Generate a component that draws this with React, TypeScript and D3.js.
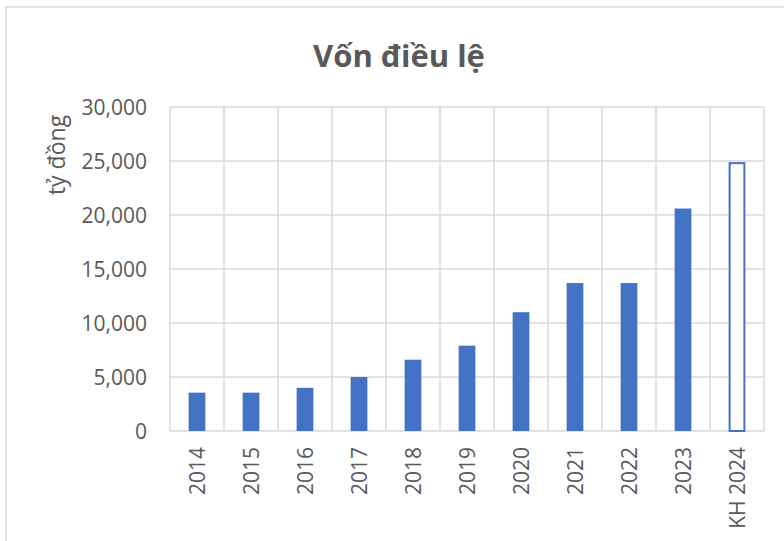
import React from "react";
import * as d3 from "d3";

// data
const categories = ["2014", "2015", "2016", "2017", "2018", "2019", "2020", "2021", "2022", "2023", "KH 2024"];
const values = [3550, 3550, 4000, 5000, 6600, 7900, 11000, 13700, 13700, 20600, 24800];
const planned = [false, false, false, false, false, false, false, false, false, false, true];
const yTicks = [0, 5000, 10000, 15000, 20000, 25000, 30000];

const width = 784;
const height = 541;
const margin = { top: 107, right: 20, bottom: 110, left: 170 };
const plotW = 594;
const plotH = 324;
const font = "'Open Sans', 'Liberation Sans', sans-serif";
const textColor = "#595959";
const gridColor = "#d9d9d9";
const barColor = "#4472C4";

const App = () => {
  const x = d3.scaleBand().domain(categories).range([0, plotW]).padding(0);
  const y = d3.scaleLinear().domain([0, 30000]).range([plotH, 0]);
  const fmt = d3.format(",");
  const barW = x.bandwidth() * 0.31;

  return (
    <svg width={width} height={height} style={{ position: "absolute", left: 0, top: 0 }}>
      <rect x={0} y={0} width={width} height={height} fill="#fff" />
      {/* chart border */}
      <rect x={6} y={7} width={width + 20} height={height + 20} fill="none" stroke={gridColor} strokeWidth={1.5} />

      <text x={399} y={67} textAnchor="middle" fontFamily={font} fontWeight="bold" fontSize={31} fill={textColor}>
        Vốn điều lệ
      </text>

      <text
        transform={`translate(65,155) rotate(-90)`}
        textAnchor="middle"
        fontFamily={font}
        fontSize={23}
        fill={textColor}
      >
        tỷ đồng
      </text>

      <g transform={`translate(${margin.left},${margin.top})`}>
        {/* horizontal grid */}
        {yTicks.map((t) => (
          <line key={"h" + t} x1={0} x2={plotW} y1={y(t)} y2={y(t)} stroke={gridColor} strokeWidth={1.5} />
        ))}
        {/* vertical grid at category boundaries */}
        {categories.map((c) => (
          <line key={"v" + c} x1={x(c)!} x2={x(c)!} y1={0} y2={plotH} stroke={gridColor} strokeWidth={1.5} />
        ))}
        <line x1={plotW} x2={plotW} y1={0} y2={plotH} stroke={gridColor} strokeWidth={1.5} />

        {/* y tick labels */}
        {yTicks.map((t) => (
          <text key={"t" + t} x={-23} y={y(t)} dy="0.36em" textAnchor="end" fontFamily={font} fontSize={21} fill={textColor}>
            {fmt(t)}
          </text>
        ))}

        {/* bars */}
        {categories.map((c, i) => {
          const bx = x(c)! + (x.bandwidth() - barW) / 2;
          return planned[i] ? (
            <rect key={"b" + c} x={bx + 1} y={y(values[i])} width={barW - 2} height={plotH - y(values[i])} fill="#fff" stroke={barColor} strokeWidth={2} />
          ) : (
            <rect key={"b" + c} x={bx} y={y(values[i])} width={barW} height={plotH - y(values[i])} fill={barColor} />
          );
        })}

        {/* x labels */}
        {categories.map((c) => (
          <text
            key={"x" + c}
            transform={`translate(${x(c)! + x.bandwidth() / 2},${plotH + 16}) rotate(-90)`}
            dy="0.36em"
            textAnchor="end"
            fontFamily={font}
            fontSize={21}
            fill={textColor}
          >
            {c}
          </text>
        ))}
      </g>
    </svg>
  );
};

export default App;
